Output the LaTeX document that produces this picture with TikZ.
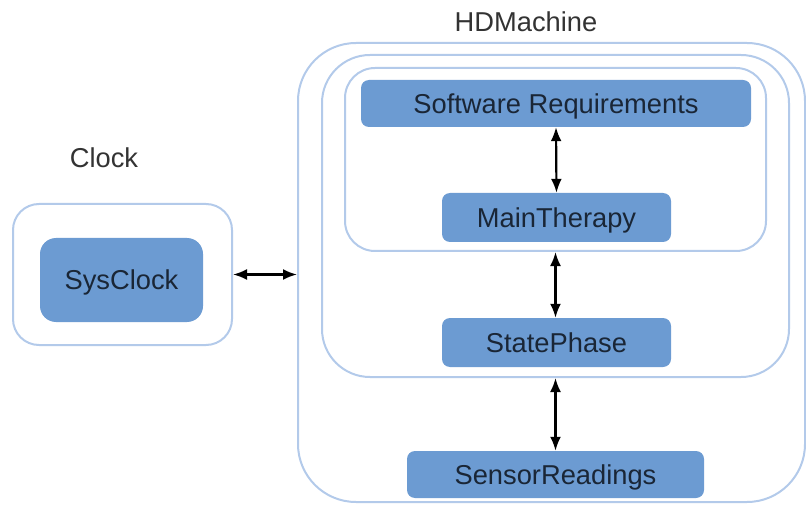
\documentclass[tikz,border=0pt]{standalone}
\usepackage{fontspec}
\setmainfont{Liberation Sans}
\usetikzlibrary{arrows.meta,positioning,calc}
\definecolor{boxfill}{HTML}{6C9BD2}
\definecolor{boxline}{HTML}{B3CAEA}
\definecolor{boxtext}{HTML}{1A2636}
\definecolor{labeltext}{HTML}{333333}
\begin{document}
\begin{tikzpicture}[x=1pt,y=-1pt,
  every node/.style={font=\fontsize{27.3}{31}\selectfont},
  comp/.style={fill=boxfill,draw=none,rounded corners=8pt,text=boxtext,inner sep=0pt,text depth=0pt,text height=19.5pt},
  frame/.style={draw=boxline,line width=2pt,fill=none,inner sep=0pt},
  lbl/.style={text=labeltext,inner sep=0pt,text depth=0pt,text height=19.5pt},
  link/.style={line width=2.2pt,black,{Latex[length=14pt,width=11pt]}-{Latex[length=14pt,width=11pt]}}
]
\useasboundingbox (0,0) rectangle (806,505);
% frames
\node[frame,rounded corners=58pt,minimum width=507pt,minimum height=459pt] (outer) at (551.5,272.5) {};
\node[frame,rounded corners=48pt,minimum width=467pt,minimum height=322pt] (mid) at (555.5,216) {};
\node[frame,rounded corners=30pt,minimum width=421pt,minimum height=183pt] (inner) at (555.5,159.5) {};
\node[frame,rounded corners=26pt,minimum width=219pt,minimum height=141pt] (clockbox) at (122.5,274.5) {};
% labels
\node[lbl] (hdlabel) at (526,22) {HDMachine};
\node[lbl] (clocklabel) at (104,158) {Clock};
% components
\node[comp,minimum width=390pt,minimum height=47pt] (sr) at (556,103.5) {Software Requirements};
\node[comp,minimum width=229pt,minimum height=49pt] (mt) at (556.5,217.5) {MainTherapy};
\node[comp,minimum width=229pt,minimum height=49pt] (sp) at (556.5,342.5) {StatePhase};
\node[comp,minimum width=297pt,minimum height=47pt] (sens) at (555.5,474.5) {SensorReadings};
\node[comp,rounded corners=16pt,minimum width=163pt,minimum height=84pt] (sys) at (121.5,280) {SysClock};
% connectors
\draw[link] (clockbox.east) -- (clockbox.east -| outer.west);
\draw[link] (sr.south) -- (mt.north);
\draw[link] (inner.south) -- (inner.south |- sp.north);
\draw[link] (mid.south) -- (mid.south |- sens.north);
\end{tikzpicture}
\end{document}
